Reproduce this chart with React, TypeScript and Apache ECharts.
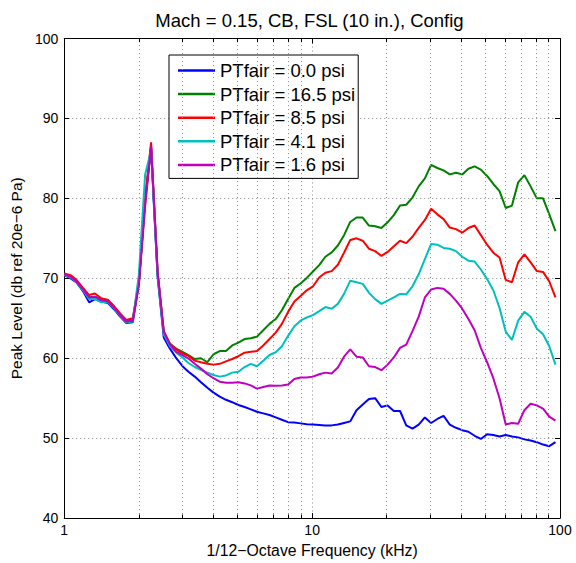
import React, { useEffect, useRef } from "react";
import * as echarts from "echarts";

// 1/12-octave band centre frequencies (kHz)
const FREQ_KHZ = [
  1.0, 1.06, 1.12, 1.19, 1.26, 1.33, 1.41, 1.5, 1.59, 1.68,
  1.78, 1.89, 2.0, 2.12, 2.24, 2.38, 2.52, 2.67, 2.83, 3.0,
  3.17, 3.36, 3.56, 3.78, 4.0, 4.24, 4.49, 4.76, 5.04, 5.34,
  5.66, 5.99, 6.35, 6.73, 7.13, 7.55, 8.0, 8.48, 8.98, 9.51,
  10.08, 10.68, 11.31, 11.99, 12.7, 13.45, 14.25, 15.1, 16.0, 16.95,
  17.96, 19.03, 20.16, 21.36, 22.63, 23.97, 25.4, 26.91, 28.51, 30.2,
  32.0, 33.9, 35.92, 38.05, 40.32, 42.71, 45.25, 47.94, 50.8, 53.82,
  57.02, 60.41, 64.0, 67.81, 71.84, 76.11, 80.63, 85.43, 90.51, 95.89,
];

const PT_0_0 = [
  70.4, 70.0, 69.5, 68.4, 67.0, 67.4, 67.1, 66.9, 66.1, 65.2,
  64.4, 64.5, 69.3, 80.0, 86.3, 70.2, 62.6, 61.2, 60.0, 59.0,
  58.3, 57.7, 57.0, 56.3, 55.7, 55.2, 54.8, 54.5, 54.15, 53.9,
  53.6, 53.3, 53.1, 52.9, 52.6, 52.3, 52.0, 51.95, 51.85, 51.75,
  51.7, 51.65, 51.6, 51.6, 51.7, 51.9, 52.1, 53.5, 54.2, 54.9,
  55.0, 53.9, 54.1, 53.4, 53.4, 51.6, 51.2, 51.7, 52.6, 51.9,
  52.4, 52.8, 51.7, 51.3, 51.0, 50.8, 50.3, 49.9, 50.5, 50.4,
  50.2, 50.4, 50.2, 50.1, 49.85, 49.7, 49.5, 49.2, 49.0, 49.5,
];

const PT_16_5 = [
  70.5, 70.2, 69.6, 68.6, 67.6, 67.7, 67.4, 67.3, 66.4, 65.5,
  64.7, 64.8, 69.5, 79.5, 86.5, 70.6, 63.2, 61.8, 61.2, 60.8,
  60.4, 59.9, 60.0, 59.5, 60.5, 60.9, 60.9, 61.6, 61.95, 62.4,
  62.5, 62.7, 63.5, 64.3, 64.9, 66.0, 67.4, 68.8, 69.35, 70.05,
  70.85, 71.65, 72.7, 73.25, 74.1, 75.4, 77.05, 77.6, 77.6, 76.6,
  76.5, 76.3, 77.0, 77.9, 79.1, 79.2, 80.1, 81.5, 82.5, 84.2,
  83.8, 83.5, 83.0, 83.2, 83.0, 83.7, 84.0, 83.6, 82.8, 81.8,
  80.9, 78.8, 79.1, 82.0, 82.9, 81.5, 80.0, 80.0, 78.0, 75.9,
];

const PT_8_5 = [
  70.6, 70.4, 69.8, 68.8, 67.9, 68.1, 67.5, 67.3, 66.5, 65.6,
  64.8, 65.0, 69.5, 80.0, 87.0, 70.8, 63.4, 61.8, 61.1, 60.6,
  60.3, 59.7, 59.5, 59.3, 59.2, 59.3, 59.6, 59.9, 60.25, 60.7,
  60.8, 60.9, 61.6, 62.4, 63.2, 64.3, 65.8, 67.1, 67.8, 68.5,
  69.0, 70.1, 70.7, 70.9, 71.7, 73.2, 74.8, 75.0, 74.7, 73.7,
  73.4, 72.8, 73.3, 74.0, 74.7, 74.4, 75.2, 76.3, 77.3, 78.7,
  78.0, 77.4, 76.35, 76.15, 75.7, 76.3, 76.6, 75.4, 74.2, 73.2,
  72.6, 69.8, 69.5, 72.0, 73.0, 72.0, 70.9, 70.8, 69.6, 67.6,
];

const PT_4_1 = [
  70.4, 70.1, 69.5, 68.5, 67.4, 67.4, 67.0, 67.0, 66.2, 65.3,
  64.5, 64.6, 70.5, 83.0, 86.0, 70.3, 63.0, 61.5, 60.7, 60.1,
  59.4, 58.9, 58.55, 58.2, 57.9, 57.7, 57.85, 58.2, 58.3, 58.9,
  59.3, 59.0, 59.7, 60.4, 60.75, 61.5, 62.8, 64.0, 64.7, 65.1,
  65.4, 65.9, 66.4, 66.2, 66.8, 68.05, 69.7, 69.5, 69.3, 68.2,
  67.4, 66.8, 67.2, 67.6, 68.05, 68.0, 69.0, 70.5, 72.4, 74.3,
  74.2, 73.8, 73.7, 73.4, 72.7, 72.2, 72.1, 71.1, 69.9, 68.5,
  66.3, 63.3, 62.3, 64.7, 65.8, 65.2, 63.7, 63.0, 61.5, 59.2,
];

const PT_1_6 = [
  70.5, 70.2, 69.6, 68.6, 67.6, 67.7, 67.3, 67.1, 66.3, 65.4,
  64.6, 64.7, 69.2, 79.0, 86.5, 70.8, 63.3, 61.7, 60.8, 60.4,
  59.96, 59.3, 58.7, 58.0, 57.5, 57.06, 56.93, 56.93, 57.0, 56.85,
  56.6, 56.2, 56.4, 56.6, 56.56, 56.6, 56.7, 57.4, 57.6, 57.6,
  57.7, 58.0, 58.2, 58.1, 58.85, 60.2, 61.1, 60.2, 60.1, 59.0,
  58.9, 58.5, 59.2, 60.1, 61.3, 61.7, 63.4, 65.2, 67.6, 68.6,
  68.8, 68.7, 68.05, 67.2, 66.2, 64.9, 63.5, 61.3, 59.5, 57.5,
  55.0, 51.7, 51.9, 51.8, 53.5, 54.3, 54.1, 53.7, 52.7, 52.2,
];

const SERIES_NAMES = [
  "PTfair = 0.0 psi",
  "PTfair = 16.5 psi",
  "PTfair = 8.5 psi",
  "PTfair = 4.1 psi",
  "PTfair = 1.6 psi",
];
const SERIES_VALUES = [PT_0_0, PT_16_5, PT_8_5, PT_4_1, PT_1_6];
const SERIES_COLORS = ["#0000ff", "#008000", "#ff0000", "#00bfbf", "#bf00bf"];

const MINOR_X = [2, 3, 4, 5, 6, 7, 8, 9, 20, 30, 40, 50, 60, 70, 80, 90];
const Y_MIN = 40;
const Y_MAX = 100;

const FONT = "Liberation Sans, Arial, Helvetica, sans-serif";

export default function App() {
  const ref = useRef<HTMLDivElement>(null);

  useEffect(() => {
    if (!ref.current) return;
    const chart = echarts.init(ref.current, null, { renderer: "svg" });

    const gridDots = { color: "#8a8a8a", width: 1, type: [1, 3] as any };

    const markData: any[] = [];
    MINOR_X.forEach((m) => {
      markData.push([
        { coord: [m, Y_MIN], lineStyle: gridDots },
        { coord: [m, Y_MAX] },
      ]);
      markData.push([
        { coord: [m, Y_MIN], lineStyle: { color: "#000", width: 1, type: "solid" } },
        { coord: [m, Y_MIN + 0.45] },
      ]);
      markData.push([
        { coord: [m, Y_MAX], lineStyle: { color: "#000", width: 1, type: "solid" } },
        { coord: [m, Y_MAX - 0.45] },
      ]);
    });

    const lineSeries = SERIES_NAMES.map((name, i) => ({
      name,
      type: "line",
      data: FREQ_KHZ.map((f, j) => [f, SERIES_VALUES[i][j]]),
      symbol: "none",
      showSymbol: false,
      lineStyle: { color: SERIES_COLORS[i], width: 2 },
      itemStyle: { color: SERIES_COLORS[i] },
      z: 3 + i,
    }));

    chart.setOption({
      animation: false,
      backgroundColor: "#fff",
      title: {
        text: "Mach = 0.15, CB, FSL (10 in.), Config",
        left: 309.5,
        top: 10.5,
        textAlign: "center",
        padding: 0,
        textStyle: { fontFamily: FONT, fontSize: 18.5, fontWeight: "normal", color: "#000" },
      },
      legend: {
        orient: "vertical",
        left: 169,
        top: 55,
        data: SERIES_NAMES,
        icon: "rect",
        backgroundColor: "#fff",
        borderColor: "#000",
        borderWidth: 1,
        borderRadius: 0,
        padding: [6, 3, 4, 9],
        itemWidth: 37,
        itemHeight: 2.5,
        itemGap: 4.6,
        textStyle: { fontFamily: FONT, fontSize: 18.5, color: "#000", lineHeight: 19 },
      },
      grid: { left: 59, right: 16, top: 38.5, bottom: 43, containLabel: false },
      xAxis: [
        {
          type: "log",
          logBase: 10,
          min: 1,
          max: 100,
          name: "1/12\u2212Octave Frequency (kHz)",
          nameLocation: "middle",
          nameGap: 20,
          nameTextStyle: { fontFamily: FONT, fontSize: 15.8, color: "#000" },
          axisLine: { show: true, lineStyle: { color: "#000", width: 1 } },
          axisTick: { show: true, inside: true, length: 5, lineStyle: { color: "#000" } },
          axisLabel: { fontFamily: FONT, fontSize: 14, color: "#000", margin: 5 },
          splitLine: { show: true, lineStyle: gridDots },
        },
        {
          type: "log",
          logBase: 10,
          min: 1,
          max: 100,
          position: "top",
          axisLine: { show: true, lineStyle: { color: "#000", width: 1 } },
          axisTick: { show: true, inside: true, length: 5, lineStyle: { color: "#000" } },
          axisLabel: { show: false },
          splitLine: { show: false },
        },
      ],
      yAxis: [
        {
          type: "value",
          min: Y_MIN,
          max: Y_MAX,
          interval: 10,
          name: "Peak Level (db ref 20e\u22126 Pa)",
          nameLocation: "middle",
          nameGap: 33,
          nameTextStyle: { fontFamily: FONT, fontSize: 15.5, color: "#000" },
          axisLine: { show: true, lineStyle: { color: "#000", width: 1 } },
          axisTick: { show: true, inside: true, length: 5, lineStyle: { color: "#000" } },
          axisLabel: { fontFamily: FONT, fontSize: 14, color: "#000", margin: 6 },
          splitLine: { show: true, lineStyle: gridDots },
        },
        {
          type: "value",
          min: Y_MIN,
          max: Y_MAX,
          interval: 10,
          position: "right",
          axisLine: { show: true, lineStyle: { color: "#000", width: 1 } },
          axisTick: { show: true, inside: true, length: 5, lineStyle: { color: "#000" } },
          axisLabel: { show: false },
          splitLine: { show: false },
        },
      ],
      series: [
        {
          name: "grid",
          type: "line",
          data: [],
          symbol: "none",
          silent: true,
          z: 1,
          markLine: {
            silent: true,
            symbol: ["none", "none"],
            label: { show: false },
            animation: false,
            data: markData,
          },
        },
        ...lineSeries,
      ],
    });

    return () => chart.dispose();
  }, []);

  return (
    <div
      ref={ref}
      style={{ position: "fixed", left: 0, top: 0, width: 576, height: 563, background: "#fff" }}
    />
  );
}
